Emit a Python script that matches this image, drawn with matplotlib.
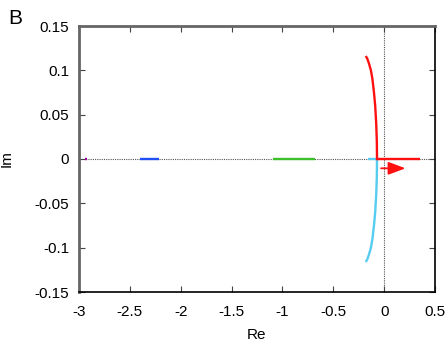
import matplotlib
matplotlib.use("Agg")
import matplotlib.pyplot as plt
import numpy as np

plt.rcParams['font.family'] = ['Liberation Sans', 'DejaVu Sans']

# Branch data (Re, Im)
purple_re = [-2.94, -2.92]
purple_im = [0.0, 0.0]
blue_re = [-2.40, -2.21]
blue_im = [0.0, 0.0]
green_re = [-1.09, -0.68]
green_im = [0.0, 0.0]
cyan_h_re = [-0.16, -0.07]
cyan_h_im = [0.0, 0.0]
red_h_re = [-0.07, 0.35]
red_h_im = [0.0, 0.0]
red_c_re = [-0.07, -0.072, -0.078, -0.088, -0.10, -0.115, -0.13, -0.15, -0.165, -0.175]
red_c_im = [0.0, 0.02, 0.04, 0.06, 0.075, 0.09, 0.10, 0.108, 0.113, 0.115]
cyan_c_re = red_c_re
cyan_c_im = [-v for v in red_c_im]
arrow_start = (-0.03, -0.0105)
arrow_end = (0.21, -0.0105)

fig = plt.figure(figsize=(4.47, 3.45), dpi=100)
ax = fig.add_axes([79/447, 1-292/345, (435-79)/447, (292-26)/345])

ax.axhline(0, color='#555555', lw=0.8, ls=(0, (1, 1)), zorder=1)
ax.axvline(0, color='#555555', lw=0.8, ls=(0, (1, 1)), zorder=1)

lw = 1.7
ax.plot(purple_re, purple_im, color='#a000a0', lw=lw, solid_capstyle='butt', zorder=3)
ax.plot(blue_re, blue_im, color='#1f4ff5', lw=lw, solid_capstyle='butt', zorder=3)
ax.plot(green_re, green_im, color='#3cbf28', lw=lw, solid_capstyle='butt', zorder=3)
ax.plot(cyan_h_re, cyan_h_im, color='#55ccf0', lw=lw, solid_capstyle='butt', zorder=3)
ax.plot(cyan_c_re, cyan_c_im, color='#55ccf0', lw=lw, zorder=3)
ax.plot(red_h_re, red_h_im, color='#ff1010', lw=lw, solid_capstyle='butt', zorder=4)
ax.plot(red_c_re, red_c_im, color='#ff1010', lw=lw, zorder=4)
ax.annotate('', xy=arrow_end, xytext=arrow_start,
            arrowprops=dict(arrowstyle='-|>,head_length=0.8,head_width=0.3', color='#ff1010', lw=1.3,
                            mutation_scale=13, shrinkA=0, shrinkB=0), zorder=5)

ax.set_xlim(-3, 0.5)
ax.set_ylim(-0.15, 0.15)
ax.set_xticks([-3, -2.5, -2, -1.5, -1, -0.5, 0, 0.5])
ax.set_xticklabels(['-3', '-2.5', '-2', '-1.5', '-1', '-0.5', '0', '0.5'])
ax.set_yticks([-0.15, -0.1, -0.05, 0, 0.05, 0.1, 0.15])
ax.set_yticklabels(['-0.15', '-0.1', '-0.05', '0', '0.05', '0.1', '0.15'])
ax.tick_params(direction='in', top=True, right=True, length=4, width=0.8,
               labelsize=11, color='#444444')
ax.tick_params(axis='x', pad=9)
ax.tick_params(axis='y', pad=7)
for side in ['left', 'top']:
    ax.spines[side].set_color('#666666')
    ax.spines[side].set_linewidth(2)
for side in ['right', 'bottom']:
    ax.spines[side].set_color('black')
    ax.spines[side].set_linewidth(1.2)
ax.set_xlabel('Re', fontsize=11, labelpad=7)
ax.set_ylabel('Im', fontsize=11)
ax.yaxis.set_label_coords(-0.185, 0.5)
fig.text(8/447, 1-18/345, 'B', fontsize=15, va='center', ha='left')

fig.savefig('out.png', dpi=100)
